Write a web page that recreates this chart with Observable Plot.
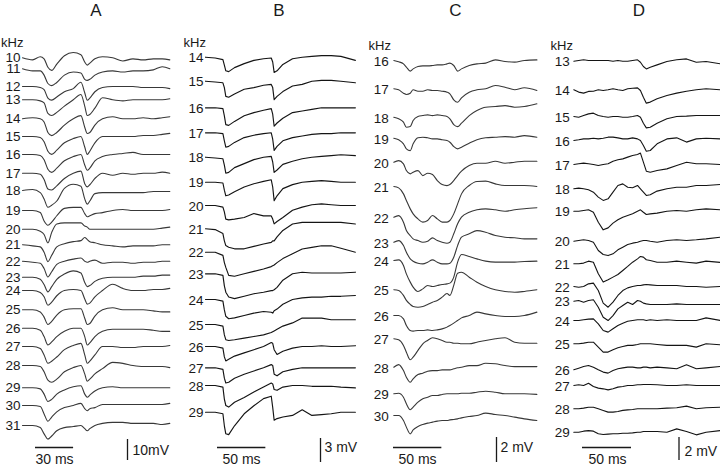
<!DOCTYPE html>
<html><head><meta charset="utf-8">
<script src="https://cdn.jsdelivr.net/npm/d3@7"></script>
<script src="https://cdn.jsdelivr.net/npm/@observablehq/plot@0.6"></script>
<style>
html,body{margin:0;padding:0;background:#fff;}
#fig{position:relative;width:720px;height:466px;overflow:hidden;background:#fff;}
#fig > svg{position:absolute;top:0;}
</style></head><body><div id="fig"></div>
<script>
// ---------------- DATA ----------------
// Panel titles, scale bar values and labels
const panelNames = ["A", "B", "C", "D"];
const barMs = [30, 50, 50, 50];
const barMsLabels = ["30 ms", "50 ms", "50 ms", "50 ms"];
const barMv = [10, 3, 2, 2];
const barMvLabels = ["10mV", "3 mV", "2 mV", "2 mV"];

// Panel A: stimulus frequency (kHz), sample times (ms), deflection (mV)
const khzA = [10,11,12,13,14,15,16,17,18,19,20,21,22,23,24,25,26,27,28,29,30,31];
const tA = [0,8,14,17,20,23,27,33,40,46,49,51,53,57,63,71,79,87,95,103,110,116];
const mvA = [
 [0,-1,0.5,-0.5,-4.5,-6,-3,1,2.5,1.5,-2,-3.5,-2.5,-0.5,0.5,0,-1.5,-0.5,-1,-0.5,-0.5,-1],
 [0,-1,-1,-3,-7,-8,-6.5,-3,-1.5,-2,-5,-5.5,-5,-3,-1.5,-1,-1.5,-1,-1,-0.5,1,0],
 [0,0,-0.5,-1.5,-5.5,-6.5,-5,-2.5,-1,2,-3,-6.5,-5.5,-2.5,-0.5,0,0,0,-0.5,-0.5,-0.5,-1],
 [0,0,-0.5,-1.5,-6.5,-7.5,-6,-3,0,2.5,-3,-7.5,-7,-4,1,0,-0.5,0,0,0,0,0.5],
 [0,0.5,0,-1.5,-6.5,-8,-6.5,-3,0,1.5,-4,-7,-6.5,-3,0,1,0,0,0.5,0,0.5,1],
 [0,0,-0.5,-2.5,-7,-8.5,-6.5,-3,-1,0,-5,-8.5,-7,-3,0,0,0,0,0.5,0.5,1,1.5],
 [0,0,-0.5,-2.5,-7,-8.5,-6.5,-3,-1,0,-5,-7.5,-6.5,-3,-1,0,0.5,1,0,0,0,0],
 [0,0,-0.5,-3,-7.5,-8,-6,-2.5,0,1,-5,-6.5,-5.5,-2.5,0,-1,0,-0.5,0,0,0.5,0],
 [0,0.5,-1,-4,-8,-7,-5,1,3,2,-4,-6.5,-5,-1.5,-1,-1,-1,-1,-1,-0.5,-0.5,-0.5],
 [0,0,-1,-5,-7,-5.5,-2.5,1,1.5,1.5,-1.5,-3,-2.5,-1.5,-1,0,0.5,0,0,0,0,0.5],
 [0,0,-1,-2.5,-6.5,-1.5,2.5,3,3,3,1.5,1,0,0,0,0,0,0,0,0,0.5,1],
 [0,-0.5,-1,-3.5,-8,-5,-1,0.5,1.5,2,3.5,2.5,1.5,1,0,-0.5,-1,-0.5,-0.5,-0.5,0,0],
 [0,-0.5,-1,-3.5,-7.5,-5,-1.5,0,1,1.5,0,-0.5,0,0.5,-1,-0.5,-0.5,-1,-0.5,-0.5,0,0],
 [0,0,-1,-3.5,-7,-4.5,-1,1.5,3,2,-2.5,-4.5,-4,-2,-0.5,0,0,0,0.5,0.5,1,1],
 [0,0,-1,-3,-7,-5.5,-2.5,0,0.5,0,-4,-6.5,-6,-3,0,3,1,0,0,0.5,0.5,1],
 [0,0,-1,-3.5,-7,-5.5,-2.5,0,0.5,0.5,-4,-7,-6.5,-3,0,1,0,0,0,-0.5,-1,-1],
 [0,0,-1,-4,-8,-6.5,-4,-1.5,0,0,-4,-8,-7,-4,-1.5,-0.5,-0.5,-0.5,-0.5,-1,-1.5,-1.5],
 [0,0,-1,-4,-8,-7,-5,-1.5,0.5,1.5,-4,-8,-7,-4,0,0,-0.5,-0.5,0,0,0,0.5],
 [0,0,-0.5,-3,-7,-8,-6.5,-3,-1,0,-4,-7.5,-6.5,-4,-1.5,1.5,1,0,-0.5,-0.5,-0.5,-1],
 [0,0,-0.5,-3,-6.5,-5.5,-3,-1,0.5,1,-3,-4.5,-3.5,-1.5,0,0.5,0,0,0,0,0,0],
 [0,0,-0.5,-4,-7.5,-5.5,-3,-1,0,1,-1.5,-2.5,-1.5,-1,0.5,0.5,0.5,0.5,0.5,0.5,0.5,1],
 [0,0,-1,-4,-6.5,-5,-2.5,-1,-0.5,0,-1.5,-2.5,-1.5,0,1,1.5,1.5,1,1,1,0.5,1]
];

// Panel B
const khzB = [14,15,16,17,18,19,20,21,22,23,24,25,26,27,28,29];
const tB = [0,10,18,19.5,21,24,30,40,50,60,68,69.5,71,74,80,90,100,110,120,130,140,155];
const mvB = [
 [0,-0.1,-0.3,-1,-1.7,-1.8,-1.3,-0.8,-0.4,-0.2,-0.1,-0.6,-1.9,-1.7,-0.9,-0.2,0,0.1,0.2,0.2,0.1,-0.4],
 [0,-0.1,-0.2,-0.8,-1.9,-2,-1.6,-1,-0.8,-0.5,-0.4,-0.8,-2.3,-1.9,-1.3,-0.6,-0.4,0,0.1,0.1,0,-0.2],
 [0,0,-0.1,-1,-2.1,-2.2,-1.7,-1,-0.6,-0.3,-0.1,-0.8,-2.3,-1.9,-1.3,-0.6,-0.4,-0.2,0,0,0,0],
 [0,0,-0.1,-1,-1.8,-1.7,-1.2,-0.6,-0.3,-0.1,0,-0.8,-2.2,-1.7,-1,-0.6,-0.4,-0.2,-0.1,-0.1,0,0],
 [0,-0.1,-0.2,-1,-2,-1.9,-1.3,-0.8,-0.3,0,0.1,-0.6,-1.9,-1.6,-0.9,-0.5,-0.2,0,0.1,0.2,0.3,0.2],
 [0,0,-0.1,-1,-1.7,-1.6,-1.2,-0.6,-0.2,0.1,0.3,-0.6,-2.3,-1.7,-0.8,-0.3,0,0.1,0.2,0.1,0,0],
 [0,0,-0.2,-0.8,-1.7,-1.8,-1.7,-1.5,-1,-1.3,-1.3,-1.7,-2.3,-2,-1.5,-0.6,-0.2,0.1,0.2,0.1,0,0],
 [0,-0.1,-0.6,-1.5,-2.1,-2.3,-2.5,-2.5,-2.2,-1.9,-1.7,-1.5,-1.5,-1,-0.2,0.6,0.8,0.8,0.8,0.8,0.8,0.6],
 [0,0,-0.4,-1.3,-1.9,-2.9,-3,-2.7,-2.4,-2.1,-1.8,-1.7,-1.6,-1.3,-0.8,-0.2,0.4,0.6,0.8,0.8,0.5,0],
 [0,0,-0.2,-1.5,-2.3,-2.9,-3.1,-2.8,-2.5,-2.3,-2.1,-2.1,-2,-1.7,-0.8,0,0.2,0.1,0.1,0.1,0.1,0.2],
 [0,0,-0.2,-1.3,-2.1,-2.4,-2.3,-2,-1.7,-1.5,-1.6,-1.7,-1.4,-1.2,-0.6,0,0.2,0.3,0.3,0.4,0.4,0.5],
 [0,0,-0.2,-1.3,-1.9,-2,-1.9,-1.7,-1.5,-1.3,-1,-0.9,-0.8,-0.6,-0.2,0.2,0.8,0.8,0.8,0.6,0.6,0.6],
 [0,0,-0.2,-1.3,-1.8,-1.6,-1.2,-0.8,-0.4,0,0.5,0.4,-0.4,-1,-0.6,-0.2,0,0,0.1,0,0,0.1],
 [0,0,-0.2,-1.3,-1.9,-1.8,-1.3,-0.8,-0.4,0,0.4,0.3,-0.8,-1,-0.5,-0.2,0,0,0,0,0,0],
 [0,0,-0.2,-1.7,-2.5,-2.7,-2.1,-1.5,-0.8,-0.2,0.3,0.2,-0.5,-0.6,-0.2,0,0,-0.1,-0.1,-0.1,-0.2,-0.3],
 [0,0,-0.2,-1.7,-2.7,-2.8,-1.7,-0.2,0.8,1.7,2,0.6,-1,-0.8,-0.6,-0.4,0.3,-0.4,-0.3,-0.2,0,0]
];

// Panel C
const khzC = [16,17,18,19,20,21,22,23,24,25,26,27,28,29,30];
const tC = [0,5,10,13,17,20,25,30,35,40,45,50,55,58,62,66,70,78,86,95,105,115,125,135,148];
const mvC = [
 [0,-0.1,-0.27,-0.53,-0.85,-0.67,-0.48,-0.43,-0.43,-0.4,-0.35,-0.35,-0.27,-0.21,-0.4,-0.85,-0.67,-0.4,-0.27,-0.21,0.05,-0.08,-0.13,0,0.05],
 [0,-0.08,-0.35,-0.45,-0.35,-0.08,-0.19,-0.19,-0.08,-0.13,-0.13,-0.19,-0.27,-0.4,-0.88,-1.07,-0.72,-0.27,-0.08,0,0.27,0.13,-0.08,0.08,-0.13],
 [0,-0.13,-0.4,-0.8,-0.75,-0.27,0.05,0.13,0.19,0.13,0.19,0.13,0.05,-0.13,-0.59,-0.75,-0.48,0.13,0.53,0.8,0.85,0.93,0.8,0.85,1.07],
 [0,-0.13,-0.45,-0.85,-0.99,-0.45,0.03,0.08,0.03,-0.05,-0.05,-0.13,-0.19,-0.32,-0.67,-0.85,-0.72,-0.4,-0.13,0.03,0.08,0.13,0.08,0.21,0.08],
 [0,0.13,-0.13,-0.67,-0.93,-0.8,-0.67,-1.07,-0.88,-0.99,-1.47,-1.79,-1.87,-1.79,-1.47,-1.07,-0.72,-0.27,-0.08,-0.08,0.08,-0.08,0,0.08,0.08],
 [0,-0.11,-0.59,-1.12,-1.79,-2.19,-2.59,-2.85,-2.72,-2.32,-2.59,-2.85,-2.85,-2.72,-2.19,-1.39,-0.59,0.08,0.4,0.43,0.21,0.08,0.08,0.08,0],
 [0,0.13,-0.4,-1.07,-1.47,-1.73,-1.87,-2,-1.92,-1.65,-1.87,-2,-2.08,-2,-1.33,-0.53,0,0.4,0.59,0.67,0.59,0.48,0.59,0.67,0.75],
 [0,0.13,-0.27,-0.8,-1.33,-1.52,-1.68,-1.73,-1.6,-1.41,-1.6,-1.73,-1.73,-1.68,-1.2,-0.27,0.4,0.67,0.93,0.8,0.53,0.4,0.35,0.27,0.27],
 [0,0.05,-0.4,-1.07,-1.73,-2.13,-2.48,-2.27,-2,-2.08,-2,-1.92,-1.87,-1.81,-1.33,-0.13,0.48,0.32,0.13,-0.05,-0.13,-0.13,-0.13,-0.08,-0.05],
 [0,-0.05,-0.45,-0.85,-1.17,-1.33,-1.39,-1.33,-1.17,-0.99,-0.85,-0.59,-0.3,-0.45,0.35,1.33,1.41,1.01,0.61,0.27,0,-0.13,-0.19,-0.13,0],
 [0,0,-0.27,-0.8,-1.2,-1.25,-1.2,-1.2,-1.15,-1.2,-1.15,-1.07,-0.93,-0.8,-0.61,-0.4,-0.19,0,0.27,0.13,0,-0.08,-0.08,0,0.27],
 [0,-0.08,-0.53,-1.07,-1.68,-1.47,-0.93,-0.4,-0.13,0.08,0,-0.13,-0.27,-0.27,-0.35,-0.35,-0.4,-0.4,-0.27,-0.13,0,0.08,-0.27,-0.35,-0.35],
 [0,0.21,-0.27,-0.8,-1.2,-0.93,-0.59,-0.48,-0.32,-0.27,-0.27,-0.21,-0.21,-0.21,-0.13,-0.05,0,0.13,0.13,0.32,0.27,0.13,0.05,0.05,0.05],
 [0,0.05,-0.27,-0.8,-1.28,-1.07,-0.67,-0.4,-0.27,-0.13,-0.13,-0.05,0,0,0,0,0.05,0.05,0.13,0.21,0.13,0,0,0,-0.05],
 [0,0,-0.4,-0.93,-1.47,-1.15,-0.88,-0.72,-0.61,-0.53,-0.45,-0.4,-0.4,-0.35,-0.32,-0.27,-0.19,-0.08,0,0.19,0.08,0,-0.13,-0.27,-0.4]
];

// Panel D
const khzD = [13,14,15,16,17,18,19,20,21,22,23,24,25,26,27,28,29];
const tD = [0,5,10,15,20,25,30,35,40,45,50,55,60,65,68,71,74,78,85,95,105,115,125,135,150];
const mvD = [
 [0,0.06,0.12,0.06,0.06,0.06,0.06,0.06,0,0.06,0,0,0.06,0.12,-0.09,-0.46,-0.67,-0.52,-0.32,-0.03,0.12,0.2,-0.09,-0.03,-0.23],
 [0,-0.2,-0.29,-0.14,-0.12,0,-0.06,0,0.09,0,-0.06,0.09,0.14,0.17,-0.06,-0.64,-1.16,-1.07,-0.78,-0.49,-0.29,-0.12,0,0.09,0],
 [0,-0.06,0.09,0.23,0.29,0.09,0,-0.06,0,0,-0.06,-0.06,0,0.09,-0.06,-0.58,-0.99,-0.93,-0.58,-0.2,0,0.03,0.09,0.09,0.09],
 [0,0.06,0.14,0.14,0.2,0.14,0.2,0.29,0.29,0.23,0.14,0.14,0.23,0.14,0,-0.43,-0.93,-0.87,-0.29,0.14,0.23,-0.14,0.14,0.2,0.14],
 [0,0.06,0.12,0.06,0,-0.09,0,0.06,0.29,0.41,0.49,0.64,0.78,0.87,0.99,0.2,-0.58,-0.67,-0.52,-0.38,-0.09,0.2,0.06,0.06,0],
 [0,0.06,0,-0.09,-0.29,-0.72,-1.01,-0.87,-0.29,0.29,0.43,0.14,0.09,0.29,0,-0.29,-0.58,-0.52,-0.2,0,0.14,0.14,0.29,0.29,0.38],
 [0,0,0.06,0.12,-0.09,-0.96,-1.62,-1.45,-1.04,-0.75,-0.52,-0.38,-0.23,0,0.12,-0.09,-0.29,-0.23,-0.17,0,0.06,0,0.12,0.2,0.12],
 [0,0.06,0.12,0.06,-0.09,-0.81,-1.16,-1.25,-1.1,-0.75,-0.52,-0.29,-0.17,-0.09,0,0.06,0.06,0,-0.09,0.06,0.12,0.06,0.12,0.2,0.35],
 [0,0,0.06,0.23,0.14,-0.87,-1.59,-1.39,-1.16,-0.93,-0.58,-0.23,0.14,0.43,0.64,0.58,0.35,0.29,0.14,0.14,0.23,0.14,0.06,0.23,0.12],
 [0,-0.06,0,0.23,0.29,-0.35,-1.45,-1.8,-1.36,-0.78,-0.35,-0.12,0,0.09,0.09,0.14,0.17,0.14,0.09,0.09,0.09,0,0,-0.06,0],
 [0,0.06,-0.09,0.06,0.12,-0.52,-1.39,-1.68,-1.25,-0.67,-0.38,-0.09,-0.29,0.06,0,-0.17,-0.23,-0.29,-0.29,-0.29,-0.23,-0.29,-0.29,-0.29,-0.29],
 [0,0,0.06,0.12,0.14,-0.29,-0.87,-1.01,-0.72,-0.43,-0.23,-0.06,0,0.06,0.06,0.06,0,0.06,0,0.06,0,0,0,0.23,0],
 [0,0,0.06,0.14,0.14,-0.29,-0.72,-0.72,-0.52,-0.35,-0.23,-0.14,-0.14,-0.06,0,0,0,0,-0.06,-0.14,-0.14,-0.14,-0.29,0,-0.09],
 [0,0.14,0.29,0.38,0.23,0,-0.2,-0.29,-0.06,0.09,0.17,0.23,0.23,0.17,0.17,0.23,0.23,0.17,0.23,0.17,0.09,0.43,0.09,0.17,0.29],
 [0,0.06,0,0.2,-0.09,-0.23,-0.29,-0.38,-0.29,-0.14,-0.09,0,0,0.06,0.06,0.09,0.09,0.09,0.06,0,0,0.06,0,0,0],
 [0,0,0.06,0.14,0.14,0,-0.14,-0.29,-0.29,-0.23,-0.14,-0.09,-0.06,0,0,0,0,0,0,0.06,0.09,0.23,0,0.09,0.14],
 [0,0,0.09,0.14,0.09,-0.14,-0.2,-0.17,-0.14,-0.14,-0.09,-0.09,-0.06,0,0,0.06,0.06,0.06,0.06,0,0.29,0.06,-0.23,0,0.14]
];

// ---------------- LAYOUT (pixels) ----------------
const H = 466;
const FONT = "'Liberation Sans', Arial, Helvetica, sans-serif";
const layout = [
 {left:0,   width:180, t0:22,    pxMs:1.27,  pxMv:2.1,  stroke:"#383838", sw:1.1, curve:"monotone-x",
  rows:[57.3,68.3,86,99.3,118.3,136,154,172.7,190,210,228.7,244.3,260.7,276.7,290,309.3,327.7,346,365,387.3,405,425],
  labelDx:-2, labelDy:1, titleX:95.5, khzX:0.5, khzAnchor:"start", khzY:42,
  hbarX:35, msTextX:54, vbarX:127, vbarBottom:460, mvTextX:132, mvTextY:450},
 {left:178, width:180, t0:205,   pxMs:0.967, pxMv:8,    stroke:"#141414", sw:1.15, curve:"linear",
  rows:[56.7,80.7,107.3,132.3,156.7,181.7,205,228.3,251.7,273.3,299,324,346,367.3,385,411.7],
  labelDx:-2, labelDy:1.5, titleX:278.5, khzX:183, khzAnchor:"start", khzY:42.5,
  hbarX:217, msTextX:241, vbarX:320, vbarBottom:462, mvTextX:324, mvTextY:447},
 {left:358, width:182, t0:393.3, pxMs:0.967, pxMv:12.5, stroke:"#383838", sw:1.1, curve:"monotone-x",
  rows:[60,88.3,116.7,137.7,161.7,186,216.7,241.7,260,289.3,315,338.3,366.7,393.3,415],
  labelDx:-5, labelDy:2, titleX:455, khzX:368, khzAnchor:"start", khzY:45,
  hbarX:393, msTextX:417, vbarX:496, vbarBottom:462, mvTextX:500, mvTextY:447},
 {left:540, width:180, t0:573.3, pxMs:0.98,  pxMv:11.5, stroke:"#141414", sw:1.1, curve:"linear",
  rows:[60.7,89.3,116,140,164,188.3,210.7,240.7,263.3,286,300.7,320,343.3,369.3,385,408.3,431.7],
  labelDx:-4, labelDy:1.5, titleX:638.5, khzX:550, khzAnchor:"start", khzY:45,
  hbarX:582, msTextX:607, vbarX:678.5, vbarBottom:460, mvTextX:684, mvTextY:451}
];
const hbarY = 447, msTextY = 459, titleY = 10;

const datasets = [
 {khz:khzA, t:tA, mv:mvA},
 {khz:khzB, t:tB, mv:mvB},
 {khz:khzC, t:tC, mv:mvC},
 {khz:khzD, t:tD, mv:mvD}
];

const fig = document.getElementById("fig");

datasets.forEach((d, p) => {
  const L = layout[p];
  const px2t = x => (x - L.t0) / L.pxMs;   // page x -> ms
  const px2v = y => -y / L.pxMv;           // page y -> mV
  const offsets = L.rows.map(px2v);
  const pts = d.khz.flatMap((k, i) => d.t.map((t, j) => ({khz: k, t, v: offsets[i] + d.mv[i][j]})));
  const labels = d.khz.map((k, i) => ({khz: k, v: offsets[i]}));

  const hbar = [{t1: px2t(L.hbarX), t2: px2t(L.hbarX) + barMs[p], v: px2v(hbarY)}];
  const vbar = [{t: px2t(L.vbarX), v1: px2v(L.vbarBottom), v2: px2v(L.vbarBottom) + barMv[p]}];

  const svg = Plot.plot({
    width: L.width, height: H,
    marginTop: 0, marginRight: 0, marginBottom: 0, marginLeft: 0,
    x: {domain: [px2t(L.left), px2t(L.left + L.width)], axis: null},
    y: {domain: [px2v(H), 0], axis: null},
    style: {background: "transparent", overflow: "visible", fontFamily: FONT, color: "#1a1a1a"},
    marks: [
      Plot.line(pts, {x: "t", y: "v", z: "khz", stroke: L.stroke, strokeWidth: L.sw, curve: L.curve}),
      Plot.text(labels, {x: 0, y: "v", text: d => String(d.khz), textAnchor: "end", dx: L.labelDx, dy: L.labelDy, fontSize: 13.5, lineHeight: 0.85, fill: "#1a1a1a"}),
      Plot.text([panelNames[p]], {x: px2t(L.titleX), y: px2v(titleY), text: d => d, fontSize: 17, fill: "#1a1a1a"}),
      Plot.text(["kHz"], {x: px2t(L.khzX), y: px2v(L.khzY), text: d => d, textAnchor: L.khzAnchor, fontSize: 13, fill: "#1a1a1a"}),
      Plot.ruleY(hbar, {y: "v", x1: "t1", x2: "t2", stroke: "#1a1a1a", strokeWidth: 1.3}),
      Plot.ruleX(vbar, {x: "t", y1: "v1", y2: "v2", stroke: "#1a1a1a", strokeWidth: 1.3}),
      Plot.text([barMsLabels[p]], {x: px2t(L.msTextX), y: px2v(msTextY), text: d => d, fontSize: 14, fill: "#1a1a1a"}),
      Plot.text([barMvLabels[p]], {x: px2t(L.mvTextX), y: px2v(L.mvTextY), text: d => d, textAnchor: "start", fontSize: 14, fill: "#1a1a1a"})
    ]
  });
  svg.style.left = L.left + "px";
  fig.appendChild(svg);
});
</script>
</body></html>
